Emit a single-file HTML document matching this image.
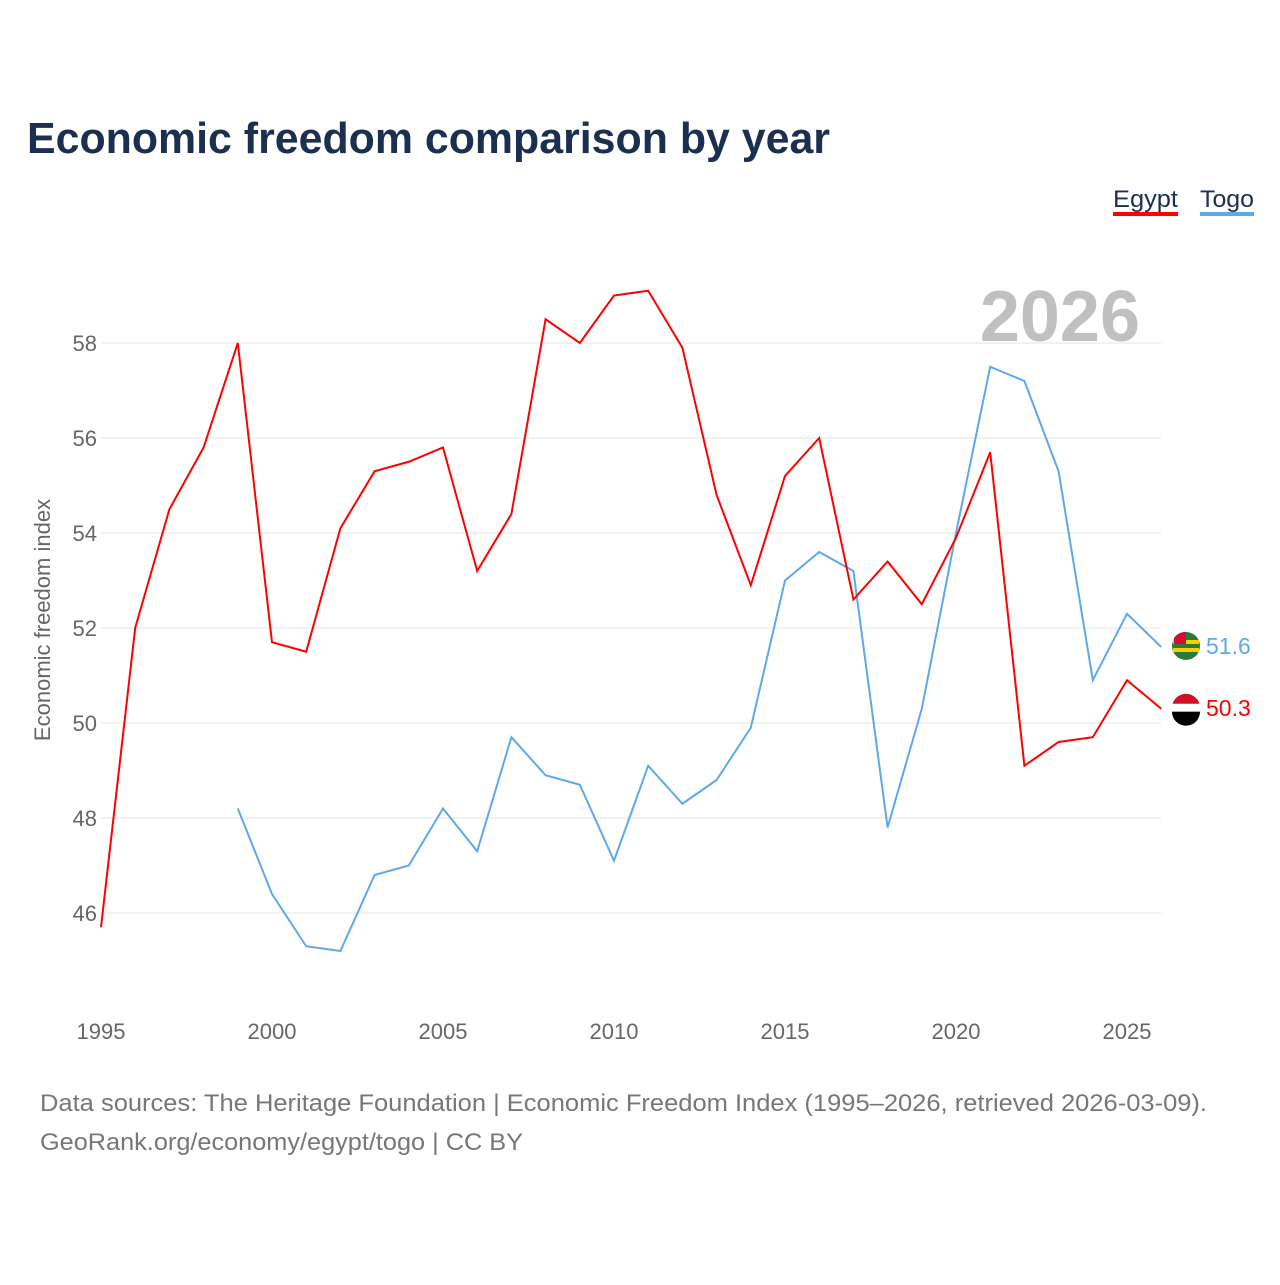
<!DOCTYPE html>
<html><head><meta charset="utf-8"><style>
body{margin:0;background:#fff;font-family:"Liberation Sans",sans-serif}
svg text{font-family:"Liberation Sans",sans-serif}
</style></head><body>
<svg id="c" width="1280" height="1280" xmlns="http://www.w3.org/2000/svg">
<text x="27" y="153" font-size="44" font-weight="bold" fill="#1b3050" textLength="803" lengthAdjust="spacingAndGlyphs">Economic freedom comparison by year</text>
<g>
<text x="1113" y="207" font-size="24" fill="#1b3050" textLength="65" lengthAdjust="spacingAndGlyphs">Egypt</text>
<rect x="1113" y="212" width="65" height="4" fill="#ff0000"/>
<text x="1200" y="207" font-size="24" fill="#1b3050" textLength="54" lengthAdjust="spacingAndGlyphs">Togo</text>
<rect x="1200" y="212" width="54" height="4" fill="#5ea8ec"/>
</g>
<text x="1140" y="341" font-size="72" font-weight="bold" fill="#c0c0c0" text-anchor="end">2026</text>
<g id="grid"></g><g id="xt"></g><g id="lines"></g>
<text transform="translate(50,620) rotate(-90)" font-size="22" fill="#666" text-anchor="middle">Economic freedom index</text>
<text x="40" y="1111" font-size="24" fill="#777" textLength="1167" lengthAdjust="spacingAndGlyphs">Data sources: The Heritage Foundation | Economic Freedom Index (1995–2026, retrieved 2026-03-09).</text>
<text x="40" y="1150" font-size="24" fill="#777" textLength="483" lengthAdjust="spacingAndGlyphs">GeoRank.org/economy/egypt/togo | CC BY</text>
</svg>
<script>
const years=[1995,1996,1997,1998,1999,2000,2001,2002,2003,2004,2005,2006,2007,2008,2009,2010,2011,2012,2013,2014,2015,2016,2017,2018,2019,2020,2021,2022,2023,2024,2025,2026];
const egypt=[45.7,52.0,54.5,55.8,58.0,51.7,51.5,54.1,55.3,55.5,55.8,53.2,54.4,58.5,58.0,59.0,59.1,57.9,54.8,52.9,55.2,56.0,52.6,53.4,52.5,53.9,55.7,49.1,49.6,49.7,50.9,50.3];
const togo=[null,null,null,null,48.2,46.4,45.3,45.2,46.8,47.0,48.2,47.3,49.7,48.9,48.7,47.1,49.1,48.3,48.8,49.9,53.0,53.6,53.2,47.8,50.3,54.0,57.5,57.2,55.3,50.9,52.3,51.6];
const yTicks=[46,48,50,52,54,56,58];
const xTicks=[1995,2000,2005,2010,2015,2020,2025];
const NS="http://www.w3.org/2000/svg";
const X=y=>101+(y-1995)*34.2;
const Y=v=>343+(58-v)*47.5;
function mk(t,a,p){const e=document.createElementNS(NS,t);for(const k in a)e.setAttribute(k,a[k]);p.appendChild(e);return e;}
const g=document.getElementById('grid');
yTicks.forEach(v=>{
 const l=mk('line',{x1:101,x2:1161,y1:Y(v),y2:Y(v),stroke:'#e6e6e6'},g);
 
 
 const t=mk('text',{x:97,y:Y(v)+8,'font-size':22,fill:'#666','text-anchor':'end'},g);
 t.textContent=v;
 
 
});
const xt=document.getElementById('xt');
xTicks.forEach(v=>{
 const t=mk('text',{x:X(v),y:1039,'font-size':22,fill:'#666','text-anchor':'middle'},xt);
 t.textContent=v;
 
 
});
const L=document.getElementById('lines');
function series(vals,col,name){
 let d='';let pen=false;
 vals.forEach((v,i)=>{if(v==null){pen=false;return;}d+=(pen?'L':'M')+X(years[i])+','+Y(v);pen=true;});
 const p=mk('path',{d:d,fill:'none',stroke:col,'stroke-width':2},L);
 
 
 const last=vals[vals.length-1];
 const ly=Y(last)-1;
 const c=mk('circle',{cx:1186,cy:ly,r:14,fill:name==='togo'?'#2a7a3a':'#ce1126'},L);
 
 
 if(name==='egypt'){mk('rect',{x:1172,y:ly-4,width:28,height:8,fill:'#fff'},L);mk('path',{d:`M1172,${ly+4}h28a14,14 0 0 1 -28,0z`,fill:'#000'},L);}
 else{mk('rect',{x:1173,y:ly-6,width:26,height:4,fill:'#f5d000'},L);mk('rect',{x:1173,y:ly+2,width:26,height:4,fill:'#f5d000'},L);mk('path',{d:`M1174,${ly-2}v-6a14,14 0 0 1 12,-6v12z`,fill:'#d21034'},L);}
 const t=mk('text',{x:1206,y:ly+8,'font-size':23,fill:col},L);
 t.textContent=last.toFixed(1);
 
 
}
series(togo,'#5ea8ec','togo');
series(egypt,'#ff0000','egypt');
</script>
</body></html>
